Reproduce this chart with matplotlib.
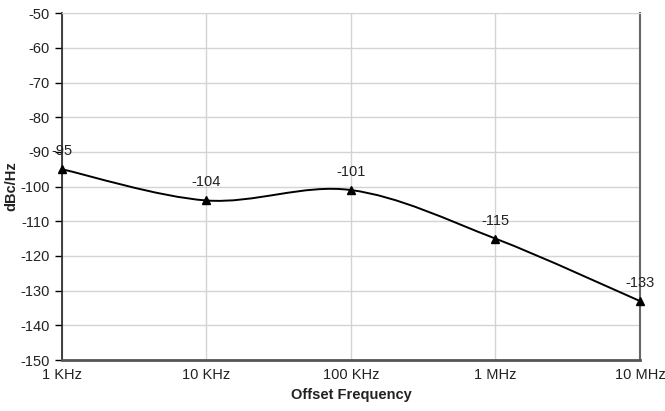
import matplotlib

matplotlib.use("Agg")
import matplotlib.pyplot as plt
from matplotlib.path import Path
from matplotlib.patches import PathPatch

plt.rcParams["font.family"] = ["Liberation Sans", "DejaVu Sans"]

# Phase noise values
freq_labels = ["1 KHz", "10 KHz", "100 KHz", "1 MHz", "10 MHz"]
phase_noise = [-95, -104, -101, -115, -133]
y_ticks = list(range(-150, -40, 10))

fig = plt.figure(figsize=(6.65, 4.11), dpi=100)
ax = fig.add_axes([0.0932, 0.124, 0.8692, 0.844])

xs = list(range(len(freq_labels)))
ax.set_xlim(0, len(freq_labels) - 1)
ax.set_ylim(-150, -50)


def smooth_path(ax, xs, ys):
    # Excel-style smoothed line: cubic Bezier segments with Catmull-Rom handles,
    # computed in display space so the curve shape follows the screen aspect
    pts = ax.transData.transform(list(zip(xs, ys)))
    n = len(pts)
    verts = [pts[0]]
    codes = [Path.MOVETO]
    for i in range(n - 1):
        p0 = pts[i - 1] if i > 0 else pts[i]
        p1 = pts[i]
        p2 = pts[i + 1]
        p3 = pts[i + 2] if i + 2 < n else pts[i + 1]
        c1 = p1 + (p2 - p0) / 6.0
        c2 = p2 - (p3 - p1) / 6.0
        verts += [c1, c2, p2]
        codes += [Path.CURVE4] * 3
    return Path(verts, codes)


fig.canvas.draw()
path = smooth_path(ax, xs, phase_noise)
patch = PathPatch(path, transform=None, facecolor="none", edgecolor="black", lw=1.4, zorder=3)
ax.add_patch(patch)
ax.plot(xs, phase_noise, linestyle="none", marker="^", color="black", markersize=6, zorder=4, clip_on=False)

for x, y in zip(xs, phase_noise):
    ax.annotate(str(y), (x, y), xytext=(0, 8), textcoords="offset points",
                ha="center", va="bottom", fontsize=10.5, color="#222222")

ax.set_xticks(xs)
ax.set_xticklabels(freq_labels, fontsize=10.5, color="#222222")
ax.set_yticks(y_ticks)
ax.set_yticklabels([str(t) for t in y_ticks], fontsize=10.5, color="#222222")
ax.tick_params(axis="x", length=0, pad=6)
ax.tick_params(axis="y", length=5, width=1, direction="out", pad=4)

ax.grid(True, color="#d4d4d4", linewidth=1)
ax.set_axisbelow(True)

ax.spines["left"].set_color("#222222")
ax.spines["left"].set_linewidth(1.2)
ax.spines["bottom"].set_color("#555555")
ax.spines["bottom"].set_linewidth(2)
ax.spines["right"].set_color("#666666")
ax.spines["right"].set_linewidth(1.5)
ax.spines["top"].set_color("#d4d4d4")

ax.set_xlabel("Offset Frequency", fontsize=10.5, fontweight="bold", labelpad=4, color="#222222")
ax.set_ylabel("dBc/Hz", fontsize=10.5, fontweight="bold", labelpad=1, color="#222222")

fig.savefig("out.png", dpi=100)
